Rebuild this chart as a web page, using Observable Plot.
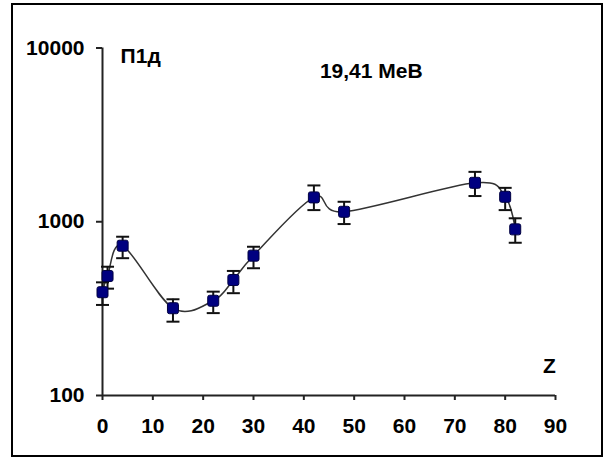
<!DOCTYPE html>
<html>
<head>
<meta charset="utf-8">
<script src="https://cdn.jsdelivr.net/npm/d3@7"></script>
<script src="https://cdn.jsdelivr.net/npm/@observablehq/plot@0.6"></script>
<style>
  html, body { margin: 0; padding: 0; background: #fff; }
  #wrap { position: relative; width: 607px; height: 457px; overflow: hidden; }
  #border { position: absolute; left: 11px; top: 3px; width: 592px; height: 454px; box-sizing: border-box; border: 2px solid #000; pointer-events: none; }
  #chart { position: absolute; left: 0; top: 0; }
</style>
</head>
<body>
<div id="wrap"><div id="chart"></div><div id="border"></div></div>
<script>
// Data
const Z       = [0, 1, 4, 14, 22, 26, 30, 42, 48, 74, 80, 82];
const values  = [393, 487, 728, 318, 351, 462, 638, 1381, 1141, 1675, 1392, 904];
const errLow  = [332, 412, 617, 266, 298, 388, 540, 1167, 970, 1406, 1167, 757];
const errHigh = [448, 551, 820, 358, 396, 521, 718, 1618, 1303, 1937, 1567, 1047];

const xTicks = [0, 10, 20, 30, 40, 50, 60, 70, 80, 90];
const yTicks = [100, 1000, 10000];

const annotations = [
  {x: 3.6, y: 9000, text: "П1д", anchor: "start"},
  {x: 53.4, y: 7330, text: "19,41 МеВ", anchor: "middle"},
  {x: 88.8, y: 147, text: "Z", anchor: "middle"}
];

const data = Z.map((z, i) => ({z, v: values[i], lo: errLow[i], hi: errHigh[i]}));

const capSymbol = {
  draw(ctx, size) {
    const r = Math.sqrt(size / Math.PI);
    ctx.moveTo(-r, 0);
    ctx.lineTo(r, 0);
  }
};
const roundSquare = {
  draw(ctx, size) {
    const s = Math.sqrt(size / Math.PI);
    const c = s * 0.35;
    ctx.moveTo(-s + c, -s);
    ctx.lineTo(s - c, -s);
    ctx.arcTo(s, -s, s, -s + c, c);
    ctx.lineTo(s, s - c);
    ctx.arcTo(s, s, s - c, s, c);
    ctx.lineTo(-s + c, s);
    ctx.arcTo(-s, s, -s, s - c, c);
    ctx.lineTo(-s, -s + c);
    ctx.arcTo(-s, -s, -s + c, -s, c);
    ctx.closePath();
  }
};

const chart = Plot.plot({
  width: 607,
  height: 457,
  marginLeft: 102,
  marginRight: 52,
  marginTop: 47.5,
  marginBottom: 62,
  style: {fontFamily: "'Liberation Sans', Arial, sans-serif", fontWeight: "bold", fontSize: "21px", color: "#000", background: "transparent", overflow: "visible"},
  x: {domain: [0, 90]},
  y: {type: "log", domain: [100, 10000]},
  marks: [
    Plot.axisX({ticks: xTicks, tickSize: 5, tickPadding: 18, tickFormat: d => String(d), stroke: "#222", strokeWidth: 2, label: null, fontWeight: "bold", fontSize: 21}),
    Plot.axisY({ticks: yTicks, tickSize: 6, tickPadding: 12, tickFormat: d => String(d), stroke: "#222", strokeWidth: 2, label: null, fontWeight: "bold", fontSize: 21}),
    Plot.ruleY([100], {stroke: "#222", strokeWidth: 2}),
    Plot.ruleX([0], {y1: 100, y2: 10000, stroke: "#222", strokeWidth: 2}),
    Plot.line(data, {x: "z", y: "v", curve: "cardinal", stroke: "#333", strokeWidth: 1.5}),
    Plot.ruleX(data, {x: "z", y1: "lo", y2: "hi", stroke: "#111", strokeWidth: 2}),
    Plot.dot(data, {x: "z", y: "lo", symbol: capSymbol, r: 6.5, stroke: "#111", strokeWidth: 2}),
    Plot.dot(data, {x: "z", y: "hi", symbol: capSymbol, r: 6.5, stroke: "#111", strokeWidth: 2}),
    Plot.dot(data, {x: "z", y: "v", symbol: roundSquare, r: 5.5, fill: "#000080", stroke: "#000040", strokeWidth: 1}),
    Plot.text(annotations.filter(d => d.anchor === "start"), {x: "x", y: "y", text: "text", textAnchor: "start", fontSize: 21, fontWeight: "bold", fill: "#000"}),
    Plot.text(annotations.filter(d => d.anchor === "middle"), {x: "x", y: "y", text: "text", textAnchor: "middle", fontSize: 21, fontWeight: "bold", fill: "#000"})
  ]
});
document.getElementById("chart").appendChild(chart);
</script>
</body>
</html>
